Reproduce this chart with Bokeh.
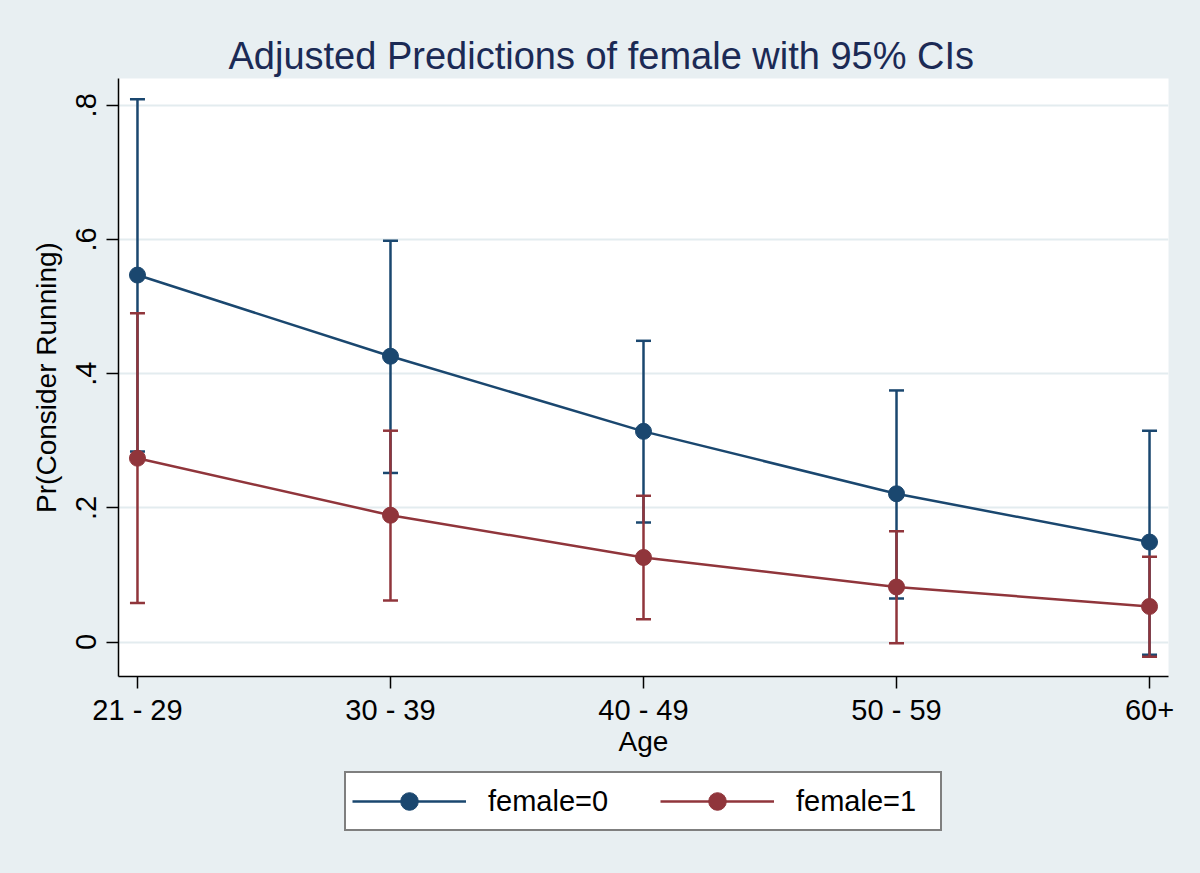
from bokeh.plotting import figure
from bokeh.layouts import column
from bokeh.models import FixedTicker, Legend, LegendItem, Range1d
from bokeh.embed import file_html
from bokeh.resources import INLINE

# ---- data ----
ages = ["21 - 29", "30 - 39", "40 - 49", "50 - 59", "60+"]
xpos = [0, 1, 2, 3, 4]
f0_margin = [0.547, 0.426, 0.314, 0.221, 0.149]
f0_lower = [0.284, 0.252, 0.178, 0.065, -0.019]
f0_upper = [0.809, 0.598, 0.449, 0.375, 0.315]
f1_margin = [0.274, 0.189, 0.126, 0.082, 0.053]
f1_lower = [0.058, 0.062, 0.034, -0.002, -0.022]
f1_upper = [0.490, 0.315, 0.218, 0.165, 0.127]
y_ticks = [0, 0.2, 0.4, 0.6, 0.8]
y_tick_labels = ["0", ".2", ".4", ".6", ".8"]
series_labels = ["female=0", "female=1"]

BG = "#e8eff2"
BLUE = "#1a476f"
RED = "#90353b"
FONT = "Liberation Sans"

p = figure(frame_width=1050, frame_height=598, output_backend="svg", toolbar_location=None,
           x_range=Range1d(-0.075, 4.075), y_range=Range1d(-0.0514, 0.840),
           min_border_left=118, min_border_right=32, min_border_top=78, min_border_bottom=90,
           background_fill_color="white", border_fill_color=BG, outline_line_color=None)

p.title.text = "Adjusted Predictions of female with 95% CIs"
p.title.text_font = FONT
p.title.text_font_size = "38px"
p.title.text_font_style = "normal"
p.title.text_color = "#1b2a55"
p.title.align = "left"
p.title.offset = 110
p.title.standoff = 4

# axes
for ax in (p.xaxis[0], p.yaxis[0]):
    ax.axis_line_color = "black"
    ax.axis_line_width = 1.5
    ax.major_tick_line_color = "black"
    ax.major_tick_line_width = 1.5
    ax.major_tick_out = 12
    ax.major_tick_in = 0
    ax.minor_tick_line_color = None
    ax.major_label_text_font = FONT
    ax.major_label_text_font_size = "29px"
    ax.major_label_text_color = "black"
    ax.axis_label_text_font = FONT
    ax.axis_label_text_font_size = "28px"
    ax.axis_label_text_font_style = "normal"
    ax.axis_label_text_color = "black"

p.xaxis.ticker = FixedTicker(ticks=xpos)
p.xaxis.major_label_overrides = {x: lab for x, lab in zip(xpos, ages)}
p.xaxis.axis_label = "Age"
p.xaxis.major_label_standoff = 5
p.xaxis.axis_label_standoff = -3

p.yaxis.ticker = FixedTicker(ticks=y_ticks)
p.yaxis.major_label_overrides = {t: lab for t, lab in zip(y_ticks, y_tick_labels)}
p.yaxis.major_label_orientation = "vertical"
p.yaxis.axis_label = "Pr(Consider Running)"
p.yaxis.major_label_standoff = 10
p.yaxis.axis_label_standoff = 12

p.xgrid.grid_line_color = None
p.ygrid.grid_line_color = "#e3ecef"
p.ygrid.grid_line_width = 2

# confidence intervals
for lo, up, col in ((f0_lower, f0_upper, BLUE), (f1_lower, f1_upper, RED)):
    p.segment(x0=xpos, y0=lo, x1=xpos, y1=up, line_color=col, line_width=2.5)
    p.scatter(xpos, lo, marker="dash", size=15, line_color=col, line_width=2.5)
    p.scatter(xpos, up, marker="dash", size=15, line_color=col, line_width=2.5)

# lines and points
p.line(xpos, f0_margin, line_color=BLUE, line_width=2.5)
p.scatter(xpos, f0_margin, size=16, fill_color=BLUE, line_color=BLUE)
p.line(xpos, f1_margin, line_color=RED, line_width=2.5)
p.scatter(xpos, f1_margin, size=16, fill_color=RED, line_color=RED)

# legend strip (separate figure so the legend is not clipped by the plot frame)
q = figure(frame_width=1050, frame_height=107, output_backend="svg", toolbar_location=None,
           x_axis_location=None, y_axis_location=None,
           min_border_left=118, min_border_right=32, min_border_top=0, min_border_bottom=0,
           x_range=Range1d(-0.075, 4.075), y_range=Range1d(-0.0514, 0.840),
           background_fill_color=BG, border_fill_color=BG, outline_line_color=None)
q.xgrid.grid_line_color = None
q.ygrid.grid_line_color = None
k0l = q.line(xpos, f0_margin, line_color=BLUE, line_width=2.5, visible=False)
k0s = q.scatter(xpos, f0_margin, size=16, fill_color=BLUE, line_color=BLUE, visible=False)
k1l = q.line(xpos, f1_margin, line_color=RED, line_width=2.5, visible=False)
k1s = q.scatter(xpos, f1_margin, size=16, fill_color=RED, line_color=RED, visible=False)

legend = Legend(items=[LegendItem(label=series_labels[0], renderers=[k0l, k0s]),
                       LegendItem(label=series_labels[1], renderers=[k1l, k1s])],
                orientation="horizontal", location=(226, 42),
                label_text_font=FONT, label_text_font_size="29px", label_text_color="black",
                label_standoff=22, label_width=138, glyph_width=114, glyph_height=44,
                spacing=34, padding=6, margin=0,
                border_line_color="black", border_line_width=2,
                background_fill_color="white", background_fill_alpha=1.0,
                inactive_fill_alpha=0.0)
q.add_layout(legend, "center")

layout = column(p, q, spacing=0, styles={"background-color": BG})
html = file_html(layout, INLINE)
html = html.replace("<body>", '<body style="background-color: %s;">' % BG, 1)
open("out.html", "w").write(html)
